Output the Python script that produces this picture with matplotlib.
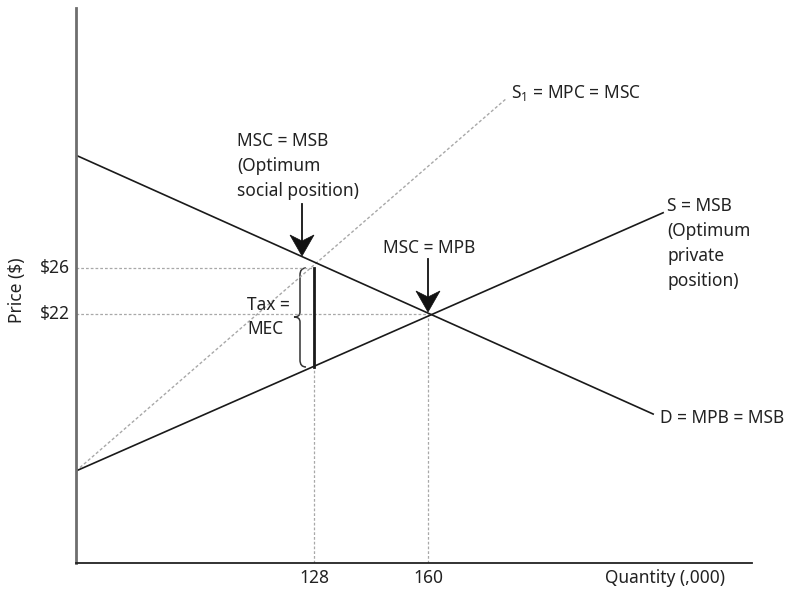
import matplotlib
matplotlib.use("Agg")
import matplotlib.pyplot as plt
from matplotlib.path import Path
from matplotlib.patches import PathPatch, Polygon

plt.rcParams['font.family'] = ['Noto Sans', 'DejaVu Sans']
plt.rcParams['mathtext.fontset'] = 'custom'
plt.rcParams['mathtext.rm'] = 'Noto Sans'
plt.rcParams['mathtext.it'] = 'Noto Sans'

# curves (quantity ,000 ; price $)
demand_q = [61.2, 223.2]
demand_p = [35.8, 13.3]
supply_q = [61.2, 226.0]
supply_p = [8.35, 30.8]
s1_q = [61.2, 181.9]
s1_p = [8.35, 40.7]

q_ticks = [128, 160]
q_labels = ["128", "160"]
p_ticks = [26, 22]
p_labels = ["$26", "$22"]
tax_top = 26
tax_bottom = 17.4

W, H = 797, 593
fig = plt.figure(figsize=(W / 100, H / 100), dpi=100)
L, R, T, B = 76, 752, 8, 563
ax = fig.add_axes([L / W, (H - B) / H, (R - L) / W, (B - T) / H])
x0, x1 = 61.2, 250.95
y0, y1 = 0.35, 48.6
ax.set_xlim(x0, x1)
ax.set_ylim(y0, y1)


def px(x, y):
    # pixel position in the picture -> data coords
    return (x0 + (x - L) / (R - L) * (x1 - x0),
            y1 - (y - T) / (B - T) * (y1 - y0))


for s in ["top", "right"]:
    ax.spines[s].set_visible(False)
ax.spines["left"].set_color("#6e6e6e")
ax.spines["left"].set_linewidth(2.0)
ax.spines["bottom"].set_color("#222222")
ax.spines["bottom"].set_linewidth(1.3)
ax.set_xticks([])
ax.set_yticks([])

grey = "#a8a8a8"
dash = (0, (2.2, 1.6))
# guide lines
ax.plot([x0, q_ticks[0]], [p_ticks[0], p_ticks[0]], color=grey, lw=0.9, ls=dash)
ax.plot([x0, q_ticks[1]], [p_ticks[1], p_ticks[1]], color=grey, lw=0.9, ls=dash)
ax.plot([q_ticks[0], q_ticks[0]], [y0, p_ticks[0]], color=grey, lw=0.9, ls=dash)
ax.plot([q_ticks[1], q_ticks[1]], [y0, p_ticks[1]], color=grey, lw=0.9, ls=dash)

ax.plot(s1_q, s1_p, color=grey, lw=1.0, ls=dash)
ax.plot(demand_q, demand_p, color="#1a1a1a", lw=1.2)
ax.plot(supply_q, supply_p, color="#1a1a1a", lw=1.2)

# tax wedge
ax.plot([q_ticks[0], q_ticks[0]], [tax_top, tax_bottom], color="#1a1a1a", lw=2.0)

brace_px = [(306, 268), (300, 268), (300, 275), (300, 312),
            (300, 317), (294, 317), (300, 317), (300, 322),
            (300, 360), (300, 367), (306, 367)]
codes = [Path.MOVETO, Path.CURVE3, Path.CURVE3, Path.LINETO,
         Path.CURVE3, Path.CURVE3, Path.CURVE3, Path.CURVE3,
         Path.LINETO, Path.CURVE3, Path.CURVE3]
ax.add_patch(PathPatch(Path([px(*p) for p in brace_px], codes),
                       fill=False, color="#333333", lw=1.1))

fs = 12.5
tc = "#222222"
ax.text(*px(247, 305), "Tax =", ha="left", va="center", fontsize=fs, color=tc)
ax.text(*px(247, 329), "MEC", ha="left", va="center", fontsize=fs, color=tc)

# tick labels
for q, lab in zip(q_ticks, q_labels):
    ax.text(q, px(0, 578)[1], lab, ha="center", va="center", fontsize=fs, color=tc)
for p, lab in zip(p_ticks, p_labels):
    ax.text(px(70, 0)[0], p, lab, ha="right", va="center", fontsize=fs, color=tc)
ax.text(*px(725, 578), "Quantity (,000)", ha="right", va="center", fontsize=fs, color=tc)
ax.text(*px(17, 290), "Price ($)", ha="center", va="center", rotation=90,
        fontsize=fs, color=tc)

# curve labels
ax.text(*px(511, 93), r"S$_1$ = MPC = MSC", ha="left", va="center", fontsize=fs, color=tc)
ax.text(*px(667, 244), "S = MSB\n(Optimum\nprivate\nposition)", ha="left",
        va="center", fontsize=fs, color=tc, linespacing=1.5)
ax.text(*px(660, 418), "D = MPB = MSB", ha="left", va="center", fontsize=fs, color=tc)
ax.text(*px(237, 166), "MSC = MSB\n(Optimum\nsocial position)", ha="left",
        va="center", fontsize=fs, color=tc, linespacing=1.5)
ax.text(*px(429, 248), "MSC = MPB", ha="center", va="center", fontsize=fs, color=tc)


def down_arrow(x, y_start, y_tip):
    ax.plot(*zip(px(x, y_start), px(x, y_tip - 12)), color="#111111", lw=1.3)
    head = [(x, y_tip), (x - 12, y_tip - 21), (x, y_tip - 15), (x + 12, y_tip - 21)]
    ax.add_patch(Polygon([px(*p) for p in head], closed=True,
                         facecolor="#111111", edgecolor="#111111", lw=0.5))


down_arrow(302, 204, 256)
down_arrow(428, 259, 312)

fig.savefig("out.png", dpi=100)
